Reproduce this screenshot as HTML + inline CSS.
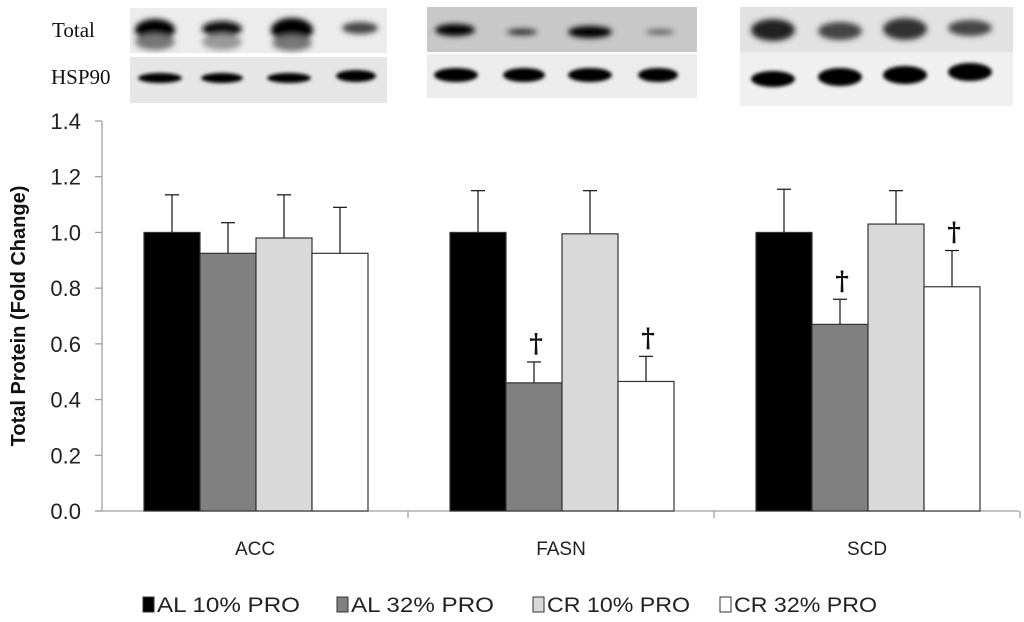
<!DOCTYPE html>
<html><head><meta charset="utf-8"><style>
body{margin:0;background:#fff;width:1024px;height:622px;overflow:hidden}
svg{display:block}
</style></head><body>
<svg id="chart" width="1024" height="622" viewBox="0 0 1024 622" xmlns="http://www.w3.org/2000/svg">
<defs>
<filter id="blur" x="-50%" y="-50%" width="200%" height="200%"><feGaussianBlur stdDeviation="3"/></filter>
<filter id="blur2" x="-50%" y="-50%" width="200%" height="200%"><feGaussianBlur stdDeviation="1.8"/></filter>
</defs>
<g id="blots">
<text x="52" y="37" font-family="Liberation Serif, serif" font-size="21" fill="#111">Total</text>
<text x="51" y="84" font-family="Liberation Serif, serif" font-size="21" fill="#111">HSP90</text>
<rect x="130" y="8" width="257" height="45" fill="#ececec"/>
<rect x="130" y="57" width="257" height="46" fill="#e6e6e6"/>
<rect x="427" y="7" width="270" height="45" fill="#c8c8c8"/>
<rect x="427" y="54" width="270" height="44" fill="#ececec"/>
<rect x="740" y="7" width="273" height="45" fill="#e2e2e2"/>
<rect x="740" y="52" width="273" height="54" fill="#f0f0f0"/>
<g filter="url(#blur)">
<ellipse cx="155" cy="30" rx="20" ry="11" fill="#000"/><ellipse cx="155" cy="42" rx="20" ry="8" fill="#777"/>
<ellipse cx="222" cy="29" rx="20" ry="8" fill="#111"/><ellipse cx="222" cy="42" rx="20" ry="8" fill="#999"/>
<ellipse cx="292" cy="30" rx="21" ry="12" fill="#000"/><ellipse cx="292" cy="43" rx="20" ry="8" fill="#777"/>
<ellipse cx="360" cy="28" rx="18" ry="6" fill="#444"/>
<ellipse cx="455" cy="30" rx="20" ry="6" fill="#000"/>
<ellipse cx="522" cy="32" rx="15" ry="3" fill="#222"/>
<ellipse cx="590" cy="32" rx="22" ry="6" fill="#000"/>
<ellipse cx="660" cy="32" rx="14" ry="2.5" fill="#555"/>
<ellipse cx="773" cy="30" rx="22" ry="11" fill="#222"/>
<ellipse cx="840" cy="31" rx="22" ry="9" fill="#444"/>
<ellipse cx="905" cy="29" rx="22" ry="11" fill="#333"/>
<ellipse cx="970" cy="28" rx="22" ry="8" fill="#444"/>
</g>
<g filter="url(#blur2)">
<ellipse cx="160" cy="78" rx="22" ry="5" fill="#000"/>
<ellipse cx="222" cy="78" rx="21" ry="5" fill="#000"/>
<ellipse cx="289" cy="78" rx="22" ry="5" fill="#000"/>
<ellipse cx="356" cy="76" rx="20" ry="6" fill="#000"/>
<ellipse cx="456" cy="75" rx="22" ry="7" fill="#000"/>
<ellipse cx="524" cy="75" rx="21" ry="7" fill="#000"/>
<ellipse cx="590" cy="75" rx="22" ry="7" fill="#000"/>
<ellipse cx="658" cy="75" rx="20" ry="7" fill="#000"/>
<ellipse cx="773" cy="79" rx="22" ry="8" fill="#000"/>
<ellipse cx="840" cy="77" rx="22" ry="9" fill="#000"/>
<ellipse cx="905" cy="75" rx="22" ry="9" fill="#000"/>
<ellipse cx="970" cy="72" rx="22" ry="9" fill="#000"/>
</g>
</g>
<g id="plot"></g>
</svg>
<script>
const categories = ["ACC", "FASN", "SCD"];
const seriesNames = ["AL 10% PRO", "AL 32% PRO", "CR 10% PRO", "CR 32% PRO"];
const al10 = [1.0, 1.0, 1.0];
const al32 = [0.925, 0.46, 0.67];
const cr10 = [0.98, 0.995, 1.03];
const cr32 = [0.925, 0.465, 0.805];
const al10Err = [0.135, 0.15, 0.155];
const al32Err = [0.11, 0.075, 0.09];
const cr10Err = [0.155, 0.155, 0.12];
const cr32Err = [0.165, 0.09, 0.13];
const al32Sig = [false, true, true];
const cr32Sig = [false, true, true];
const yTicks = [0.0, 0.2, 0.4, 0.6, 0.8, 1.0, 1.2, 1.4];

const NS = "http://www.w3.org/2000/svg";
const g = document.getElementById('plot');
const X0 = 102, CW = 306, Y0 = 511, Y1 = 121, YMAX = 1.4;
const yS = v => Y0 - v / YMAX * (Y0 - Y1);
const barW = 56, off = 42;
const xS = (ci, si) => X0 + ci * CW + off + si * barW;
function mk(tag, attrs, parent) { const e = document.createElementNS(NS, tag); for (const k in attrs) e.setAttribute(k, attrs[k]); (parent || g).appendChild(e); return e; }
const fills = ["#000000", "#808080", "#d9d9d9", "#ffffff"];
const series = [al10, al32, cr10, cr32];
const errs = [al10Err, al32Err, cr10Err, cr32Err];
const sigs = [null, al32Sig, null, cr32Sig];
const font = "Liberation Sans, sans-serif";

let ax = mk('line', {x1: X0, y1: Y1, x2: X0, y2: Y0, stroke: '#a0a0a0', 'stroke-width': 1.3});
 
let xa = mk('line', {x1: X0 - 7, y1: Y0, x2: 1019, y2: Y0, stroke: '#a0a0a0', 'stroke-width': 1.3});
 
yTicks.forEach(t => {
  const tk = mk('line', {x1: X0 - 7, y1: yS(t), x2: X0, y2: yS(t), stroke: '#a0a0a0', 'stroke-width': 1.3});
   
  const tl = mk('text', {x: 81, y: yS(t) + 8, 'text-anchor': 'end', 'font-family': font, 'font-size': 22, fill: '#222'});
  tl.textContent = t.toFixed(1);
   
});
for (let i = 1; i <= categories.length; i++) {
  const tk = mk('line', {x1: X0 + i * CW, y1: Y0, x2: X0 + i * CW, y2: Y0 + 7, stroke: '#a0a0a0', 'stroke-width': 1.3});
   
}
const yt = mk('text', {x: 0, y: 0, transform: 'translate(25,316) rotate(-90)', 'text-anchor': 'middle', 'font-family': font, 'font-size': 20, 'font-weight': 'bold', fill: '#111'});
yt.textContent = 'Total Protein (Fold Change)';
 

categories.forEach((c, ci) => {
  const cl = mk('text', {x: X0 + ci * CW + CW / 2, y: 555, 'text-anchor': 'middle', 'font-family': font, 'font-size': 19, fill: '#222'});
  cl.textContent = c;
   
  series.forEach((s, si) => {
    const x = xS(ci, si), v = s[ci], top = yS(v), cx = x + barW / 2;
    const et = yS(v + errs[si][ci]);
    const el = mk('line', {x1: cx, y1: top, x2: cx, y2: et, stroke: '#222', 'stroke-width': 1.3});
     
    const ec = mk('line', {x1: cx - 7, y1: et, x2: cx + 7, y2: et, stroke: '#222', 'stroke-width': 1.3});
     
    const r = mk('rect', {x: x, y: top, width: barW, height: Y0 - top, fill: fills[si], stroke: '#333', 'stroke-width': 1.2});
    
    
    if (sigs[si] && sigs[si][ci]) {
      const d = mk('text', {x: cx + 2, y: et - 10, 'text-anchor': 'middle', 'font-family': 'DejaVu Serif, serif', 'font-size': 26, 'font-weight': 'bold', fill: '#111'});
      d.textContent = '†';
       
    }
  });
});

const lx = [143, 337, 533, 720];
seriesNames.forEach((n, i) => {
  const sq = mk('rect', {x: lx[i], y: 597, width: 11, height: 15, fill: fills[i], stroke: '#333', 'stroke-width': 1});
   
  const t = mk('text', {x: lx[i] + 14, y: 612, 'font-family': font, 'font-size': 21, fill: '#222', textLength: 143, lengthAdjust: 'spacingAndGlyphs'});
  t.textContent = n;
   
});
</script>
</body></html>
